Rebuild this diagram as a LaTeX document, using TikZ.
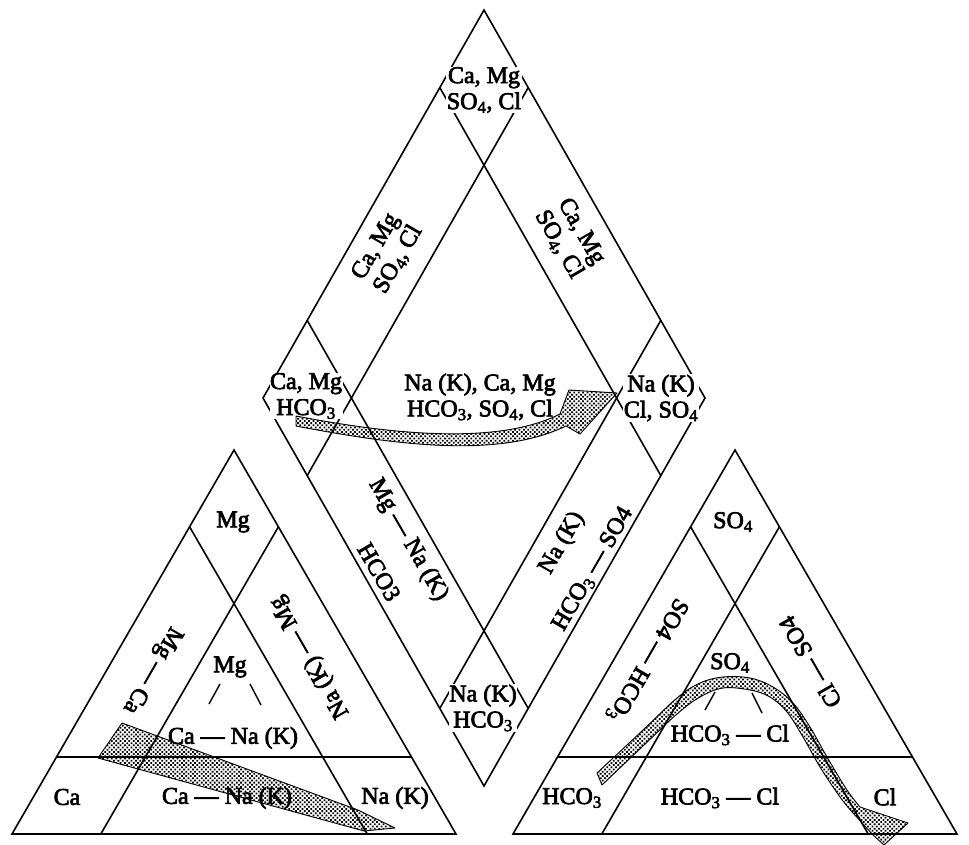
\documentclass[tikz,border=0pt]{standalone}
\usepackage{fontspec}
\setmainfont{Liberation Serif}[FakeBold=3]
\usetikzlibrary{calc,patterns.meta}
\newcommand{\lsub}[1]{\textsubscript{#1}}
\begin{document}
\begin{tikzpicture}[x=1pt,y=-1pt,
  every node/.style={font=\fontsize{24}{26}\selectfont, inner sep=1pt},
  grid/.style={line width=1.6pt, line join=miter},
  lab/.style={align=center},
  boxlab/.style={align=center, fill=white, inner sep=0.5pt},
  band/.style={pattern={Dots[distance=3.1pt, radius=1.25pt, angle=45]}, draw=black, line width=0.9pt, line join=round},
  tick/.style={line width=1.4pt}
]
\useasboundingbox (0,0) rectangle (969,844);
\fill[white] (0,0) rectangle (969,844);

% ---- cation triangle ----
\coordinate (A) at (12,834);
\coordinate (B) at (456,834);
\coordinate (C) at (234,450);
\draw[grid] (A) -- (B) -- (C) -- cycle;
\draw[grid] ($(A)!0.2!(C)$) -- ($(B)!0.2!(C)$);
\draw[grid] ($(A)!0.2!(B)$) -- ($(C)!0.2!(B)$);
\draw[grid] ($(C)!0.2!(A)$) -- ($(B)!0.2!(A)$);

% ---- anion triangle ----
\coordinate (D) at (513,834);
\coordinate (E) at (957,834);
\coordinate (F) at (735,450);
\draw[grid] (D) -- (E) -- (F) -- cycle;
\draw[grid] ($(D)!0.2!(F)$) -- ($(E)!0.2!(F)$);
\draw[grid] ($(D)!0.2!(E)$) -- ($(F)!0.2!(E)$);
\draw[grid] ($(F)!0.2!(D)$) -- ($(E)!0.2!(D)$);

% ---- central diamond ----
\coordinate (T) at (484,10);
\coordinate (L) at (263,398);
\coordinate (R) at (705,398);
\coordinate (Bd) at (484,786);
\draw[grid] (T) -- (R) -- (Bd) -- (L) -- cycle;
\draw[grid] ($(T)!0.2!(L)$) -- ($(R)!0.2!(Bd)$);
\draw[grid] ($(T)!0.8!(L)$) -- ($(R)!0.8!(Bd)$);
\draw[grid] ($(T)!0.2!(R)$) -- ($(L)!0.2!(Bd)$);
\draw[grid] ($(T)!0.8!(R)$) -- ($(L)!0.8!(Bd)$);

% labels of the diamond corners (masking the grid)
\node[boxlab] (dtop) at (484,90) {Ca, Mg\\SO\lsub{4}, Cl};
\node[boxlab] (dleft) at (306,396) {Ca, Mg\\HCO\lsub{3}};
\node[boxlab] (dright) at (661,398) {Na (K)\\Cl, SO\lsub{4}};
\node[boxlab] (dbot) at (483,708) {Na (K)\\HCO\lsub{3}};

% ---- evolution paths ----
\filldraw[band] (296,416) .. controls (400,436) and (500,444) .. (560,414)
  -- (569,390) -- (617,393) -- (580,434) -- (566,426)
  .. controls (500,458) and (400,446) .. (296,426) -- cycle;

\filldraw[band] (122,723) -- (358,810) -- (395,828) -- (364,831) -- (98,758) -- cycle;

\filldraw[band] plot[smooth, tension=0.6] coordinates {(597,773) (643,730) (677,698) (700,683) (723,677) (750,678) (773,687) (793,703) (810,727) (827,757) (847,790) (860,807)}
  -- (908,823) -- (884,845) -- (873,835)
  -- plot[smooth, tension=0.6] coordinates {(853,813) (840,797) (820,767) (803,737) (787,712) (770,697) (750,690) (723,688) (700,697) (677,714) (643,746) (602,785)}
  -- cycle;

% ---- diamond field labels ----
\node[lab] (dmid) at (480,397) {Na (K), Ca, Mg\\HCO\lsub{3}, SO\lsub{4}, Cl};
\node[lab, rotate=60] (dul) at (387,253) {Ca, Mg\\SO\lsub{4}, Cl};
\node[lab, rotate=-60] (dur) at (570,238) {Ca, Mg\\SO\lsub{4}, Cl};
\node[rotate=-60] (dll1) at (408,540) {Mg — Na (K)};
\node[rotate=-60] (dll2) at (379,572) {HCO3};
\node[rotate=60] (dlr1) at (562,543) {Na (K)};
\node[rotate=60] (dlr2) at (593,569) {HCO\lsub{3} — SO4};

% ---- cation triangle labels ----
\node (cmg) at (233,522) {Mg};
\node[rotate=-120] (cmgca) at (152,670) {Mg — Ca};
\node[rotate=120] (cnamg) at (310,657) {Na (K) — Mg};
\node (cimg) at (230,667) {Mg};
\draw[tick] (209,704) -- (220,684);
\draw[tick] (250,684) -- (261,705);
\node (cica) at (233,738) {Ca — Na (K)};
\node (cca) at (67,797) {Ca};
\node (ccana) at (227,798) {Ca — Na (K)};
\node (cna) at (395,798) {Na (K)};

% ---- anion triangle labels ----
\node (aso) at (733,522) {SO\lsub{4}};
\node[rotate=-120] (asohc) at (647,660) {SO4 — HCO\lsub{3}};
\node[rotate=120] (aclso) at (810,662) {Cl — SO4};
\node (aiso) at (730,663) {SO\lsub{4}};
\draw[tick] (705,710) -- (715,692);
\draw[tick] (752,693) -- (762,713);
\node (aihc) at (730,735) {HCO\lsub{3} — Cl};
\node (ahc) at (572,798) {HCO\lsub{3}};
\node (ahccl) at (720,798) {HCO\lsub{3} — Cl};
\node (acl) at (885,797) {Cl};
\end{tikzpicture}
\end{document}
